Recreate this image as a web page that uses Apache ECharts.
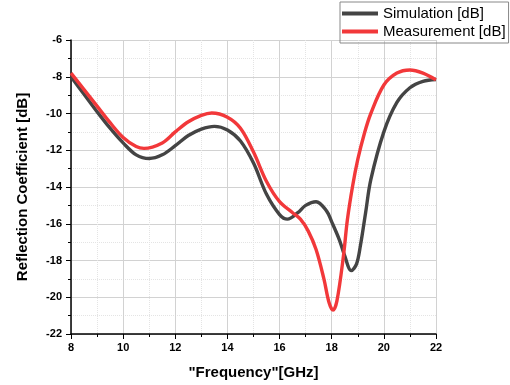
<!DOCTYPE html>
<html>
<head>
<meta charset="utf-8">
<script src="https://cdn.jsdelivr.net/npm/echarts@6/dist/echarts.min.js"></script>
<style>
  html, body { margin: 0; padding: 0; background: #fff; }
  #chart { width: 510px; height: 385px; }
</style>
</head>
<body>
<div id="chart"></div>
<script>
// frequency [GHz] / reflection coefficient [dB]
const simFreq = [8, 8.5, 9, 9.5, 10, 10.5, 11, 11.5, 12, 12.5, 13, 13.5, 14, 14.5, 15, 15.5, 16, 16.3, 16.7, 17, 17.4, 17.8, 18, 18.3, 18.5, 18.75, 18.95, 19.1, 19.3, 19.5, 20, 20.5, 21, 21.5, 22]
const simVals = [-8.0, -8.95, -9.9, -10.8, -11.6, -12.25, -12.45, -12.25, -11.75, -11.2, -10.85, -10.7, -10.9, -11.5, -12.7, -14.4, -15.5, -15.75, -15.4, -15.0, -14.8, -15.3, -15.9, -16.9, -17.75, -18.55, -18.2, -17.2, -15.4, -13.6, -11.0, -9.4, -8.6, -8.25, -8.15]
const measFreq = [8, 8.5, 9, 9.5, 10, 10.5, 10.8, 11.5, 12, 12.5, 13, 13.4, 14, 14.5, 15, 15.5, 16, 16.5, 16.8, 17.1, 17.4, 17.7, 17.9, 18.05, 18.2, 18.45, 18.6, 18.8, 19, 19.25, 19.5, 20, 20.5, 21, 21.5, 22]
const measVals = [-7.8, -8.7, -9.6, -10.5, -11.3, -11.8, -11.9, -11.6, -11.0, -10.45, -10.1, -9.97, -10.2, -10.8, -12.1, -13.7, -14.8, -15.4, -15.75, -16.4, -17.4, -19.0, -20.3, -20.7, -20.2, -17.75, -15.8, -13.96, -12.5, -11.1, -10.0, -8.45, -7.8, -7.63, -7.8, -8.17]
const seriesNames = ['Simulation [dB]', 'Measurement [dB]']

const pairs = (xs, ys) => xs.map((x, i) => [x, ys[i]])

const myChart = echarts.init(document.getElementById('chart'))
const font = 'Liberation Sans, Arial, sans-serif'
const labelStyle = { color: '#000', fontWeight: 'bold', fontSize: 11, fontFamily: font }
const axisCommon = {
  axisLine: { show: true, onZero: false, lineStyle: { color: '#000', width: 1.5 } },
  axisTick: { show: true, inside: false, length: 5, lineStyle: { color: '#000' } },
  minorTick: { show: true, splitNumber: 2, length: 3, lineStyle: { color: '#000' } },
  splitLine: { show: true, lineStyle: { color: '#d2d2d2', width: 1 } },
  minorSplitLine: { show: true, lineStyle: { color: '#e4e4e4', type: 'dotted', width: 1 } },
  axisLabel: labelStyle,
  nameTextStyle: { color: '#000', fontWeight: 'bold', fontSize: 15, fontFamily: font },
  nameLocation: 'middle'
}

myChart.setOption({
  animation: false,
  grid: { left: 71, right: 74, top: 40, bottom: 50 },
  legend: {
    orient: 'vertical',
    left: 340,
    top: 2,
    padding: [4, 3, 4, 2],
    itemGap: 3,
    itemWidth: 36,
    itemHeight: 4,
    icon: 'rect',
    borderColor: '#888',
    borderWidth: 1,
    textStyle: { color: '#000', fontSize: 15, fontFamily: font },
    data: seriesNames
  },
  xAxis: Object.assign({}, axisCommon, {
    type: 'value', min: 8, max: 22, interval: 2,
    name: '"Frequency"[GHz]', nameGap: 31,
    axisLabel: Object.assign({}, labelStyle, { margin: 8 })
  }),
  yAxis: Object.assign({}, axisCommon, {
    type: 'value', min: -22, max: -6, interval: 2,
    name: 'Reflection Coefficient [dB]', nameGap: 41,
    axisLabel: Object.assign({}, labelStyle, { margin: 9 })
  }),
  series: [
    {
      name: seriesNames[0], type: 'line', smooth: 0.35, showSymbol: false,
      data: pairs(simFreq, simVals),
      lineStyle: { color: '#444', width: 3.4 }, itemStyle: { color: '#444' }
    },
    {
      name: seriesNames[1], type: 'line', smooth: 0.35, showSymbol: false,
      data: pairs(measFreq, measVals),
      lineStyle: { color: '#f2383a', width: 3.4 }, itemStyle: { color: '#f2383a' }
    }
  ]
})
</script>
</body>
</html>
